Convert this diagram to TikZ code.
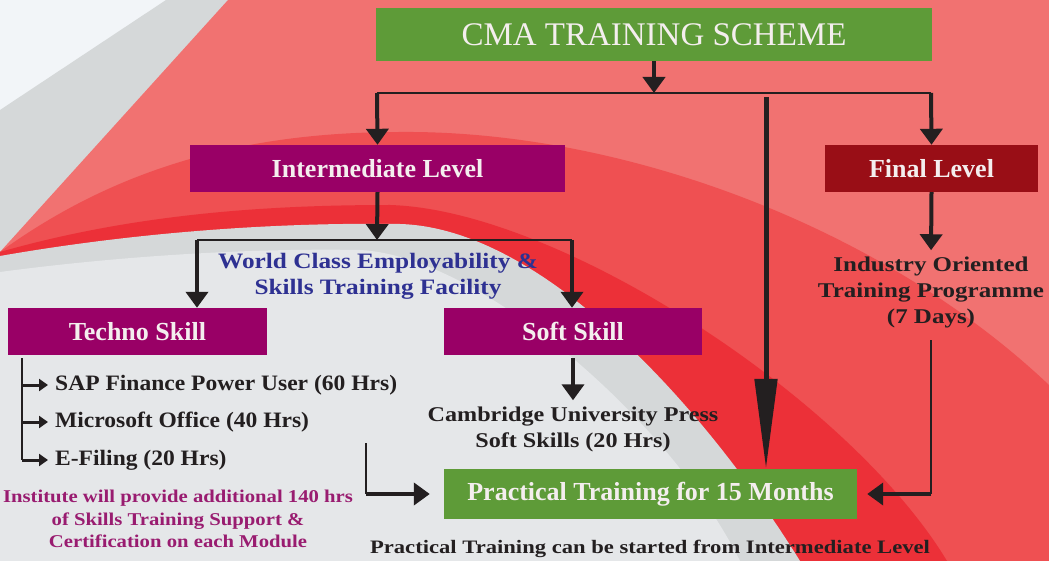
\documentclass[tikz,border=0pt]{standalone}
\usepackage{fontspec}
\setmainfont{Liberation Serif}
\newfontfamily\itemfont[FakeStretch=1.07]{Liberation Serif}
\newfontfamily\notefont[FakeStretch=1.15]{Liberation Serif}
\newfontfamily\cambfont[FakeStretch=1.19]{Liberation Serif}
\usetikzlibrary{arrows.meta}
\definecolor{bgwhite}{HTML}{F2F5F8}
\definecolor{bggrey}{HTML}{D5D8D9}
\definecolor{bglight}{HTML}{E5E7E9}
\definecolor{bgpink}{HTML}{F17271}
\definecolor{bgmid}{HTML}{EF5052}
\definecolor{bgred}{HTML}{EC3038}
\definecolor{boxgreen}{HTML}{5E9B38}
\definecolor{boxplum}{HTML}{990066}
\definecolor{boxwine}{HTML}{990E16}
\definecolor{inkdark}{HTML}{231F20}
\definecolor{inkblue}{HTML}{2E3192}
\definecolor{inkplum}{HTML}{991C70}
\definecolor{inkwhite}{HTML}{F4EEEE}
\begin{document}
\begin{tikzpicture}[x=1pt,y=-1pt,
  levelbox/.style={fill=#1, text=inkwhite, inner sep=0pt, font=\fontsize{26}{28}\selectfont\bfseries},
  itemtext/.style={anchor=west, inner xsep=7pt, inner ysep=0pt, text=inkdark, font=\itemfont\fontsize{22}{24}\selectfont\bfseries},
  notetext/.style={align=center, inner sep=0pt, text=#1, font=\notefont\fontsize{21}{26}\selectfont\bfseries},
  thinln/.style={draw=inkdark, line width=2pt},
  hairln/.style={draw=inkdark, line width=1.5pt},
  thkarr/.style={draw=inkdark, line width=4pt, -{Triangle[length=16pt,width=22pt]}},
  smarr/.style={draw=inkdark, line width=3pt, -{Triangle[length=9pt,width=12pt]}},
  bigarr/.style={draw=inkdark, line width=5pt, -{Triangle[length=90pt,width=22pt]}}]
\useasboundingbox (0,0) rectangle (1049,561);
\fill[bgwhite] (0,0) rectangle (1049,561);
\fill[bggrey] (0,110) -- (166,0) -- (1049,0) -- (1049,561) -- (0,561) -- cycle;
\fill[bgpink] (0,252) -- (228,0) -- (1049,0) -- (1049,561) -- (0,561) -- cycle;
\fill[bgmid] (0,252) .. controls (120,165) and (250,132) .. (400,132) .. controls (620,130) and (880,225) .. (1049,385) -- (1049,561) -- (0,561) -- cycle;
\fill[bgred] (0,252) .. controls (130,215) and (260,205) .. (390,205) .. controls (560,210) and (850,400) .. (947,561) -- (0,561) -- cycle;
\fill[bggrey] (0,256) .. controls (120,235) and (260,222) .. (400,224) .. controls (540,228) and (700,400) .. (800,561) -- (0,561) -- cycle;
\fill[bglight] (0,272) .. controls (120,256) and (250,248) .. (360,250) .. controls (480,256) and (670,420) .. (740,561) -- (0,561) -- cycle;
\node[levelbox=boxgreen, minimum width=556pt, minimum height=53pt, font=\fontsize{33}{36}\selectfont] (cma) at (654,34.5) {CMA TRAINING SCHEME};
\node[levelbox=boxplum, minimum width=375pt, minimum height=47pt] (inter) at (377.5,168.5) {Intermediate Level};
\node[levelbox=boxwine, minimum width=213pt, minimum height=47pt] (final) at (931.5,168.5) {Final Level};
\node[levelbox=boxplum, minimum width=259pt, minimum height=47pt] (techno) at (137.5,331.5) {Techno Skill};
\node[levelbox=boxplum, minimum width=258pt, minimum height=47pt] (soft) at (573,331.5) {Soft Skill};
\node[levelbox=boxgreen, minimum width=413pt, minimum height=50pt] (practical) at (650.5,494) {Practical Training for 15 Months};
\node[notetext=inkblue, font=\notefont\fontsize{22}{26}\selectfont\bfseries] (wcef) at (378,276) {World Class Employability \&\\Skills Training Facility};
\node[itemtext] (sap) at (48,385) {SAP Finance Power User (60 Hrs)};
\node[itemtext] (msoff) at (48,422) {Microsoft Office (40 Hrs)};
\node[itemtext] (efile) at (48,460) {E-Filing (20 Hrs)};
\node[notetext=inkdark] (cup) at (573,429) {Cambridge University Press\\Soft Skills (20 Hrs)};
\node[notetext=inkplum, font=\notefont\fontsize{18}{22.5}\selectfont\bfseries] (inst) at (178,519) {Institute will provide additional 140 hrs\\of Skills Training Support \&\\Certification on each Module};
\node[notetext=inkdark, font=\cambfont\fontsize{21}{26}\selectfont\bfseries] (iotp) at (931,292) {Industry Oriented\\Training Programme\\(7 Days)};
\node[notetext=inkdark, font=\cambfont\fontsize{19}{22}\selectfont\bfseries] (start) at (650,549) {Practical Training can be started from Intermediate Level};
\coordinate (jc) at (654,93);
\coordinate (jl) at (377,93);
\coordinate (jr) at (931,93);
\coordinate (jm) at (766,97);
\coordinate (ji) at (377,240);
\coordinate (jt) at (197,240);
\coordinate (js) at (572,240);
\coordinate (tv) at (22,358);
\coordinate (ia) at (366,443);
\coordinate (fa) at (931,340);
\draw[thkarr] (cma.south) -- (jc);
\draw[thinln] (jl) -- (jr);
\draw[thkarr] (jl) -- (inter.north);
\draw[thkarr] (jr) -- (final.north);
\draw[bigarr] (jm) -- (jm |- practical.north);
\draw[thkarr] (inter.south) -- (ji);
\draw[thinln] (jt) -- (js);
\draw[thkarr] (jt) -- (jt |- techno.north);
\draw[thkarr] (js) -- (js |- soft.north);
\draw[hairln] (tv) -- (tv |- efile.west);
\draw[smarr] (tv |- sap.west) -- (sap.west);
\draw[smarr] (tv |- msoff.west) -- (msoff.west);
\draw[smarr] (tv |- efile.west) -- (efile.west);
\draw[thkarr, shorten <=3pt, shorten >=6pt] (soft.south) -- (cup.north);
\draw[hairln] (ia) -- (ia |- practical.west);
\draw[thkarr, shorten >=14pt] (ia |- practical.west) -- (practical.west);
\draw[thkarr, shorten >=6pt] (final.south) -- (iotp.north);
\draw[hairln] (fa) -- (fa |- practical.east);
\draw[thkarr, shorten >=10pt] (fa |- practical.east) -- (practical.east);
\end{tikzpicture}
\end{document}
